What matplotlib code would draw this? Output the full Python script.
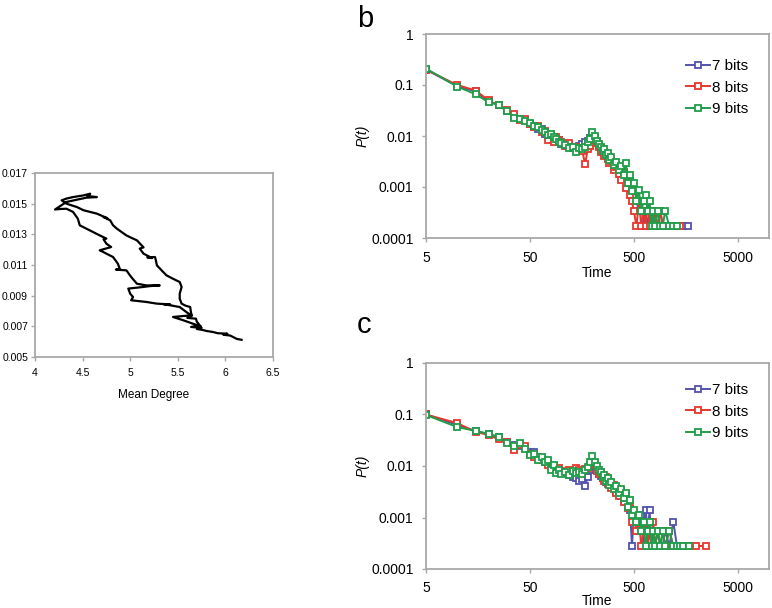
import numpy as np
import matplotlib.pyplot as plt
from matplotlib.ticker import NullLocator

plt.rcParams['font.family'] = ['Liberation Sans', 'DejaVu Sans']

# ---- panel a: trajectory (mean degree vs. density) ----
traj_degree = [
    6.17, 6.12, 6.05, 5.98, 6.02, 5.92, 5.87, 5.80, 5.77, 5.70, 5.75, 5.64, 5.73, 5.70, 5.69,
    5.60, 5.65, 5.64, 5.63, 5.58, 5.54, 5.52, 5.52, 5.54, 5.52, 5.45, 5.38, 5.33, 5.28, 5.27,
    5.26, 5.18, 5.23, 5.14, 5.10, 5.14, 5.07, 5.01, 4.96, 4.91, 4.86, 4.82, 4.79, 4.72, 4.76,
    4.65, 4.58, 4.51, 4.44, 4.33, 4.28, 4.33, 4.40, 4.51, 4.58, 4.55, 4.65,
    4.54, 4.44, 4.33, 4.21, 4.26, 4.33, 4.40, 4.45, 4.47, 4.54, 4.61, 4.68, 4.75, 4.72,
    4.75, 4.80, 4.68, 4.70, 4.75, 4.82, 4.87, 4.89, 4.85, 4.96, 5.01, 5.07, 5.17, 5.31,
    5.20, 5.14, 4.98, 5.00, 5.03, 5.01, 5.17, 5.28, 5.42, 5.35, 5.52, 5.59, 5.64, 5.45,
    5.56, 5.66, 5.74,
]
traj_value = [
    0.00612, 0.00618, 0.00640, 0.00645, 0.00652, 0.00655, 0.00663, 0.00670, 0.00675, 0.00683,
    0.00690, 0.00696, 0.00707, 0.00730, 0.00750, 0.00755, 0.00770, 0.00785, 0.00826, 0.00835,
    0.00848, 0.00880, 0.00913, 0.00957, 0.00989, 0.01010, 0.01033, 0.01065, 0.01098, 0.01130,
    0.01152, 0.01150, 0.01145, 0.01174, 0.01207, 0.01215, 0.01261, 0.01278, 0.01293, 0.01315,
    0.01337, 0.01359, 0.01391, 0.01413, 0.01405, 0.01435, 0.01446, 0.01457, 0.01478, 0.01500,
    0.01522, 0.01533, 0.01543, 0.01554, 0.01565, 0.01550, 0.01543,
    0.01539, 0.01526, 0.01511, 0.01462, 0.01465, 0.01467, 0.01446, 0.01402, 0.01359, 0.01337,
    0.01315, 0.01293, 0.01272, 0.01268, 0.01239, 0.01217, 0.01196, 0.01190, 0.01174, 0.01152,
    0.01109, 0.01076, 0.01070, 0.01065, 0.01022, 0.00978, 0.00967, 0.00967, 0.00962, 0.00957,
    0.00946, 0.00913, 0.00891, 0.00870, 0.00859, 0.00848, 0.00843, 0.00845, 0.00826, 0.00793,
    0.00772, 0.00761, 0.00739, 0.00717, 0.00700,
]

# ---- panel b ----
time_b = [5, 10, 15, 20, 25, 30, 35, 40, 45, 50,
          55, 60, 65, 70, 75, 80, 85, 90, 95, 100,
          110, 120, 130, 140, 150, 160, 170, 180, 190, 200,
          210, 220, 230, 240, 250, 260, 270, 280, 290, 300,
          320, 340, 360, 380, 400, 420, 440, 460, 480, 500,
          530, 560, 590, 620, 650, 680, 710, 740, 770, 800,
          850, 900, 950, 1000, 1100, 1200, 1300, 1400, 1500, 1650]
b_7bits = [0.20, 0.095, 0.075, 0.048, 0.040, 0.031, 0.024, 0.022, 0.021, 0.017,
           0.0155, 0.014, 0.0135, 0.011, 0.0105, 0.0098, 0.0088, 0.0080, 0.0085, 0.0070,
           0.0066, 0.0063, 0.0058, 0.0062, 0.0065, 0.0070, 0.0075, 0.0080, 0.0090, 0.0105,
           0.0090, 0.0078, 0.0066, 0.0058, 0.0055, 0.0048, 0.0044, 0.0040, 0.0036, 0.0032,
           0.0029, 0.0026, 0.0024, 0.0021, 0.0019, 0.0016, 0.0014, 0.0013, 0.0010, 0.00069,
           0.00052, 0.00034, 0.00052, 0.00017, 0.00034, 0.00017, 0.00034, 0.00017, 0.00034, 0.00017,
           0.00017, 0.00034, 0.00017, 0.00017, 0.00017, 0.00017, 0.00017, 0.00017, 0.00017, 0.00017]
b_8bits = [0.20, 0.10, 0.078, 0.050, 0.040, 0.032, 0.027, 0.021, 0.022, 0.017,
           0.015, 0.0155, 0.012, 0.0125, 0.0085, 0.0105, 0.0078, 0.0095, 0.0082, 0.0075,
           0.0065, 0.0072, 0.0062, 0.0060, 0.0058, 0.0050, 0.0028, 0.0055, 0.0065, 0.0085,
           0.0095, 0.0072, 0.0060, 0.0048, 0.0052, 0.0040, 0.0045, 0.0035, 0.0030, 0.0032,
           0.0022, 0.0025, 0.0018, 0.0014, 0.0020, 0.00095, 0.0012, 0.00069, 0.00052, 0.00034,
           0.00017, 0.00052, 0.00017, 0.00034, 0.00017, 0.00052, 0.00017, 0.00034, 0.00017, 0.00034,
           0.00017, 0.00034, 0.00017, 0.00017, 0.00017, 0.00017, 0.00017, 0.00017, np.nan, np.nan]
b_9bits = [0.21, 0.093, 0.066, 0.046, 0.041, 0.031, 0.023, 0.022, 0.020, 0.018,
           0.016, 0.015, 0.013, 0.012, 0.0105, 0.011, 0.0095, 0.0088, 0.0078, 0.0072,
           0.0068, 0.0057, 0.0062, 0.0049, 0.0058, 0.0055, 0.0062, 0.0078, 0.0088, 0.0122,
           0.0098, 0.0080, 0.0070, 0.0062, 0.0050, 0.0056, 0.0042, 0.0046, 0.0034, 0.0038,
           0.0027, 0.0031, 0.0022, 0.0026, 0.0017, 0.0029, 0.0012, 0.0017, 0.00085, 0.0012,
           0.00052, 0.00086, 0.00034, 0.00052, 0.00069, 0.00034, 0.00052, 0.00017, 0.00034, 0.00017,
           0.00034, 0.00017, 0.00017, 0.00034, 0.00017, 0.00017, 0.00017, np.nan, np.nan, np.nan]

# ---- panel c ----
time_c = [5, 10, 15, 20, 25, 30, 35, 40, 45, 50,
          55, 60, 65, 70, 75, 80, 85, 90, 95, 100,
          110, 120, 130, 140, 150, 160, 170, 180, 190, 200,
          210, 220, 230, 240, 250, 260, 270, 280, 290, 300,
          320, 340, 360, 380, 400, 420, 440, 460, 480, 500,
          530, 560, 590, 620, 650, 680, 710, 740, 770, 800,
          850, 900, 950, 1000, 1100, 1200, 1300, 1400, 1500, 1700, 2000, 2500]
c_7bits = [0.10, 0.063, 0.048, 0.042, 0.036, 0.029, 0.026, 0.024, 0.022, 0.019,
           0.019, 0.0145, 0.013, 0.0125, 0.0115, 0.0100, 0.0092, 0.0088, 0.0080, 0.0075,
           0.0072, 0.0068, 0.0062, 0.0058, 0.0052, 0.0055, 0.0040, 0.0060, 0.0085, 0.0110,
           0.0095, 0.0085, 0.0070, 0.0065, 0.0058, 0.0060, 0.0050, 0.0055, 0.0045, 0.0042,
           0.0038, 0.0033, 0.0030, 0.0026, 0.0022, 0.0028, 0.0018, 0.0014, 0.00028, 0.0011,
           0.00083, 0.00055, 0.0011, 0.00028, 0.0014, 0.00055, 0.0014, 0.00028, 0.00055, 0.00028,
           0.00055, 0.00028, 0.00028, 0.00055, 0.00028, 0.00083, 0.00028, 0.00028, 0.00028, 0.00028,
           np.nan, np.nan]
c_8bits = [0.10, 0.068, 0.046, 0.040, 0.033, 0.029, 0.020, 0.026, 0.024, 0.017,
           0.015, 0.0150, 0.013, 0.0120, 0.0105, 0.0095, 0.0098, 0.0088, 0.0090, 0.0080,
           0.0075, 0.0085, 0.0078, 0.0090, 0.0082, 0.0078, 0.0088, 0.0090, 0.0105, 0.0120,
           0.0110, 0.0080, 0.0070, 0.0078, 0.0058, 0.0052, 0.0060, 0.0045, 0.0050, 0.0038,
           0.0042, 0.0030, 0.0026, 0.0032, 0.0020, 0.0024, 0.0015, 0.0018, 0.00083, 0.0011,
           0.00055, 0.00083, 0.00028, 0.00055, 0.00083, 0.00028, 0.00055, 0.00028, 0.00083, 0.00028,
           0.00055, 0.00028, 0.00055, 0.00028, 0.00055, 0.00028, 0.00028, 0.00028, 0.00028, 0.00028,
           0.00028, 0.00028]
c_9bits = [0.098, 0.057, 0.048, 0.042, 0.037, 0.028, 0.025, 0.028, 0.021, 0.0165,
           0.017, 0.013, 0.015, 0.012, 0.013, 0.0085, 0.0105, 0.0072, 0.0082, 0.0070,
           0.0078, 0.0068, 0.0080, 0.0072, 0.0078, 0.0070, 0.0085, 0.0095, 0.0120, 0.0155,
           0.0120, 0.0100, 0.0085, 0.0075, 0.0062, 0.0066, 0.0052, 0.0058, 0.0042, 0.0048,
           0.0035, 0.0040, 0.0030, 0.0035, 0.0024, 0.0030, 0.0016, 0.0022, 0.0011, 0.0014,
           0.00083, 0.0011, 0.00055, 0.00083, 0.00028, 0.00055, 0.00083, 0.00028, 0.00055, 0.00028,
           0.00055, 0.00028, 0.00055, 0.00028, 0.00055, 0.00028, 0.00028, 0.00028, 0.00028, 0.00028,
           np.nan, np.nan]

series_labels = ['7 bits', '8 bits', '9 bits']
series_colors = ['#5353ad', '#e8362d', '#1f9e4a']

SPINE = '#a8a8a8'
W, H = 772, 608


def box(x0, y0, x1, y1):
    return [x0 / W, 1 - y1 / H, (x1 - x0) / W, (y1 - y0) / H]


def style_axes(ax):
    for s in ax.spines.values():
        s.set_color(SPINE)
        s.set_linewidth(1.3)
    ax.tick_params(color=SPINE, length=3, width=1, direction='out')


def decay_panel(ax, times, series, legend_top, xlabel_pad):
    for vals, lab, col in zip(series, series_labels, series_colors):
        ax.plot(times, vals, color=col, lw=1.4, marker='s', ms=4.2,
                mfc='white', mec=col, mew=1.3, label=lab)
    ax.set_xscale('log')
    ax.set_yscale('log')
    ax.set_xlim(5, 10000)
    ax.set_ylim(1e-4, 1)
    ax.set_xticks([5, 50, 500, 5000], ['5', '50', '500', '5000'])
    ax.set_yticks([1e-4, 1e-3, 1e-2, 1e-1, 1], ['0.0001', '0.001', '0.01', '0.1', '1'])
    ax.xaxis.set_minor_locator(NullLocator())
    ax.yaxis.set_minor_locator(NullLocator())
    style_axes(ax)
    ax.tick_params(labelsize=10, pad=6)
    ax.set_xlabel('Time', fontsize=10, labelpad=xlabel_pad)
    ax.set_ylabel('P(t)', fontsize=10, style='italic', labelpad=1)
    ax.legend(loc='upper right', bbox_to_anchor=(748 / W, 1 - legend_top / H),
              bbox_transform=fig.transFigure, frameon=False,
              fontsize=11, handlelength=1.6, handletextpad=0.1,
              labelspacing=0.5, borderaxespad=0, borderpad=0)


fig = plt.figure(figsize=(7.72, 6.08), dpi=100)

ax_a = fig.add_axes(box(35, 173, 273, 357))
ax_a.plot(traj_degree, traj_value, color='black', lw=1.6)
ax_a.set_xlim(4, 6.5)
ax_a.set_ylim(0.005, 0.017)
ax_a.set_xticks([4, 4.5, 5, 5.5, 6, 6.5], ['4', '4.5', '5', '5.5', '6', '6.5'])
ax_a.set_yticks([0.005, 0.007, 0.009, 0.011, 0.013, 0.015, 0.017],
                ['0.005', '0.007', '0.009', '0.011', '0.013', '0.015', '0.017'])
style_axes(ax_a)
ax_a.tick_params(labelsize=7.5)
ax_a.tick_params(axis='x', pad=5)
ax_a.tick_params(axis='y', pad=2)
ax_a.set_xlabel('Mean Degree', fontsize=8.5, labelpad=8)

ax_b = fig.add_axes(box(426, 34, 769, 238))
decay_panel(ax_b, time_b, [b_7bits, b_8bits, b_9bits], 59, 1)

ax_c = fig.add_axes(box(426, 363, 769, 569))
decay_panel(ax_c, time_c, [c_7bits, c_8bits, c_9bits], 383, -1)

fig.text(357 / W, 1 - 27 / H, 'b', fontsize=21, ha='left', va='baseline')
fig.text(357 / W, 1 - 333 / H, 'c', fontsize=21, ha='left', va='baseline')

fig.savefig('out.png', dpi=100)
